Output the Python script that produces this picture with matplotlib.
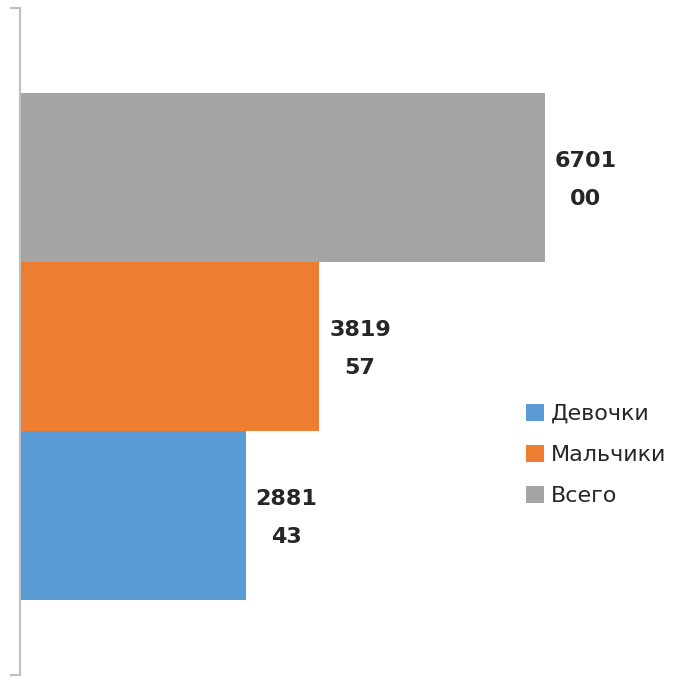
import matplotlib as mpl
mpl.use('Agg')
import matplotlib.pyplot as plt
from matplotlib.patches import Patch

# one category, three series drawn as stacked-by-position horizontal bars
series = ['Девочки', 'Мальчики', 'Всего']
values = [288143, 381957, 670100]
colors = ['#5b9bd5', '#ed7d31', '#a5a5a5']

bar_h = 0.2534
shift = -0.008

fig = plt.figure(figsize=(6.92, 6.83), dpi=100)
ax = fig.add_axes([20 / 692, 8 / 683, 627 / 692, 667 / 683])

for i, (name, val, col) in enumerate(zip(series, values, colors)):
    y = shift + (i - 1) * bar_h
    ax.barh(y, val, height=bar_h, color=col, label=name)
    s = str(val)
    ax.annotate(s[:4] + '\n' + s[4:], xy=(val, y), xytext=(7, -1.5),
                textcoords='offset points', ha='left', va='center',
                multialignment='center', fontsize=16, fontweight='bold',
                color='#262626', linespacing=2.15)

ax.set_xlim(0, 800000)
ax.set_ylim(-0.5, 0.5)
ax.set_xticks([])
ax.set_yticks([-0.5, 0.5])
ax.set_yticklabels([])
ax.tick_params(axis='y', direction='out', length=7.5, width=1.5, color='#bfbfbf')
for side in ['top', 'right', 'bottom']:
    ax.spines[side].set_visible(False)
ax.spines['left'].set_color('#bfbfbf')
ax.spines['left'].set_linewidth(1.5)

handles = [Patch(facecolor=c, edgecolor='none') for c in colors]
fig.legend(handles, series, loc='center left', bbox_to_anchor=(526 / 692, 1 - 455 / 683),
           frameon=False, fontsize=16, handlelength=0.8, handleheight=0.8,
           handletextpad=0.3, labelspacing=0.95, borderpad=0, borderaxespad=0,
           labelcolor='#262626')

fig.savefig('out.png', dpi=100)
